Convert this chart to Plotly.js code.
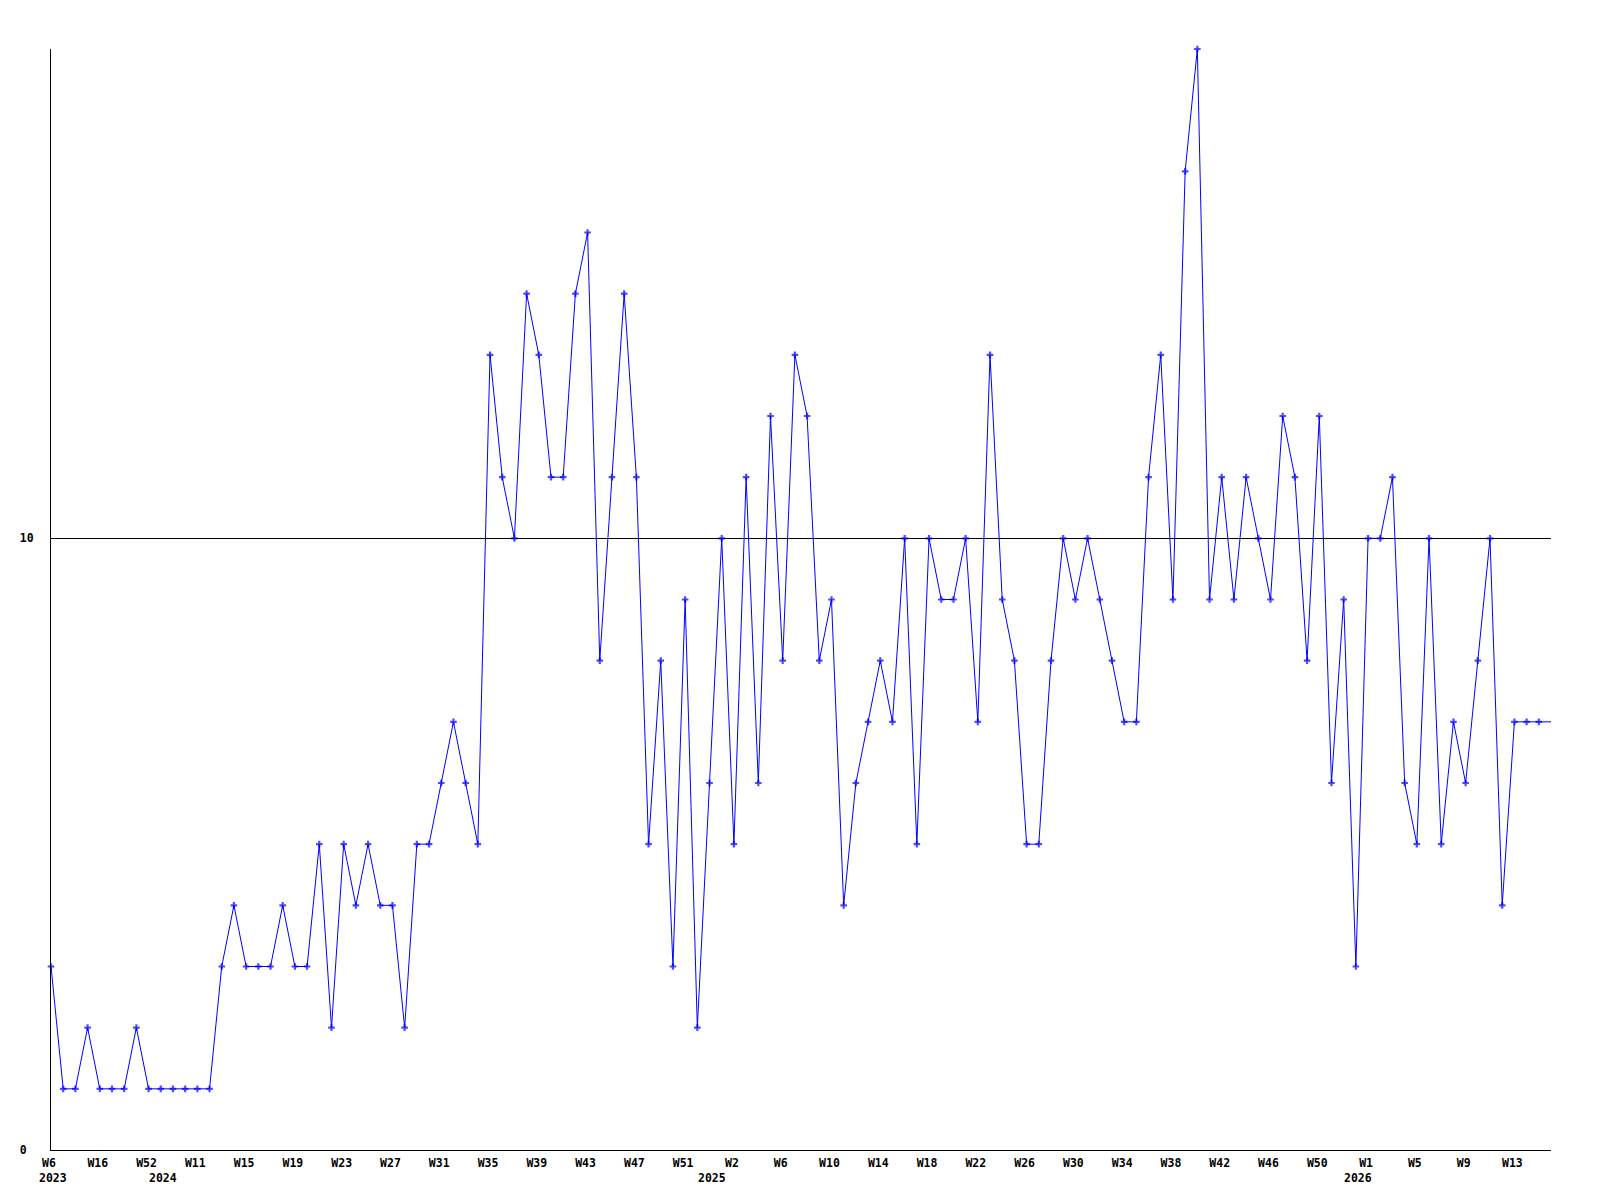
<!DOCTYPE html>
<html>
<head>
<meta charset="utf-8">
<script src="https://cdn.plot.ly/plotly-3.0.1.min.js"></script>
<style>html,body{margin:0;padding:0;background:#fff;}#chart{width:1600px;height:1200px;}</style>
</head>
<body>
<div id="chart"></div>
<script>
// weekly counts, one per plotted point
const counts = [
  3,1,1,2,1,1,1,2,1,1,
  1,1,1,1,3,4,3,3,3,4,
  3,3,5,2,5,4,5,4,4,2,
  5,5,6,7,6,5,13,11,10,14,
  13,11,11,14,15,8,11,14,11,5,
  8,3,9,2,6,10,5,11,6,12,
  8,13,12,8,9,4,6,7,8,7,
  10,5,10,9,9,10,7,13,9,8,
  5,5,8,10,9,10,9,8,7,7,
  11,13,9,16,18,9,11,9,11,10,
  9,12,11,8,12,6,9,3,10,10,
  11,6,5,10,5,7,6,8,10,4,
  7,7,7,7
];
// week labels, shown on every 4th point
const weekLabels = ['W6','W16','W52','W11','W15','W19','W23','W27','W31','W35','W39','W43','W47','W51',
  'W2','W6','W10','W14','W18','W22','W26','W30','W34','W38','W42','W46','W50','W1','W5','W9','W13'];
// year labels and the point where each year starts
const yearLabels = ['2023','2024','2025','2026'];
const yearStartPoint = [0,9,54,107];
// y axis tick labels
const yTickValues = [0,10];
const yTickLabels = ['0\u00a0','10'];

const xs = counts.map((_, i) => i);
const tickStep = 4;
const tickvals = weekLabels.map((_, i) => i * tickStep);
const markerSizes = counts.map((_, i) => i === counts.length - 1 ? 0 : 5.5);

const font = {family: '"DejaVu Sans Mono", "Liberation Mono", monospace', size: 11.5, color: '#000', weight: 'bold'};

const trace = {
  x: xs, y: counts, type: 'scatter', mode: 'lines+markers',
  line: {color: '#0000ff', width: 1},
  marker: {color: '#0000ff', symbol: 'cross', size: markerSizes, line: {width: 0}},
  cliponaxis: false,
  hoverinfo: 'skip'
};

const annotations = yearLabels.map((t, i) => ({
  text: t, x: yearStartPoint[i], xref: 'x', y: 0, yref: 'paper',
  xanchor: 'left', yanchor: 'middle', xshift: -14, yshift: -28,
  showarrow: false, font: font
}));

const layout = {
  width: 1600, height: 1200,
  margin: {l: 51, r: 49, t: 49, b: 50},
  paper_bgcolor: '#fff', plot_bgcolor: '#fff',
  showlegend: false,
  font: font,
  xaxis: {
    range: [0, counts.length - 1], tickmode: 'array', tickvals: tickvals, ticktext: weekLabels,
    showgrid: false, zeroline: false, showline: true, linecolor: '#000', linewidth: 1,
    ticks: '', tickfont: font, ticklabelshift: -2, ticklabelstandoff: 2, fixedrange: true
  },
  yaxis: {
    range: [0, 18], tickmode: 'array', tickvals: yTickValues, ticktext: yTickLabels,
    showgrid: true, gridcolor: '#000', gridwidth: 1, zeroline: false,
    showline: true, linecolor: '#000', linewidth: 1,
    ticks: '', tickfont: font, ticklabelstandoff: 14, fixedrange: true
  },
  annotations: annotations
};

Plotly.newPlot('chart', [trace], layout, {displayModeBar: false, staticPlot: true});
</script>
</body>
</html>
